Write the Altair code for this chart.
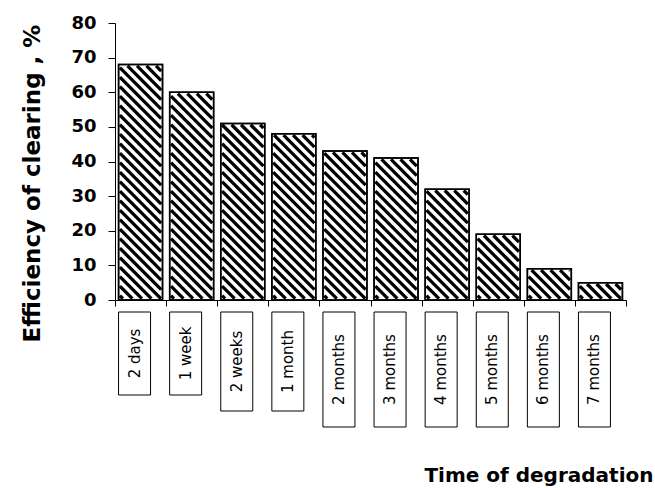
import altair as alt
import pandas as pd

# Degradation time and the clearing efficiency reached after it
categories = ["2 days", "1 week", "2 weeks", "1 month", "2 months",
              "3 months", "4 months", "5 months", "6 months", "7 months"]
efficiency = [68, 60, 51, 48, 43, 41, 32, 19, 9, 5]
y_ticks = [0, 10, 20, 30, 40, 50, 60, 70, 80]

# Plot area size (px) and layout constants
W, H = 511, 277
Y_MAX = 80
N = len(categories)
BAR_PAD = 0.07          # gap on each side of a bar, in category units
HATCH_GAP = 9.5         # horizontal distance between hatch stripes, px
HATCH_WIDTH = 3.3       # stripe thickness, px
INSET = 1.3             # keep stripe ends inside the bar outline, px
STEP = W / N            # px per category
KY = H / Y_MAX          # px per percent
BOX_TOP = H + 12        # label boxes hang just below the x axis, px
BOX_W = 32              # label box width, px
BOX_SHIFT = -6          # label boxes sit slightly left of the bar centres, px
FONT = "DejaVu Sans"

df = pd.DataFrame({"idx": list(range(N)), "label": categories, "value": efficiency})

x_scale = alt.Scale(domain=[0, N], nice=False, zero=False)
y_scale = alt.Scale(domain=[0, Y_MAX], nice=False, zero=True)

X_TITLE = "Time of degradation"
Y_TITLE = "Efficiency of clearing , %"

x_axis = alt.Axis(
    values=list(range(N + 1)), labels=False, grid=False,
    tickSize=6, tickColor="black", tickWidth=1,
    domainColor="black", domainWidth=1,
    title=X_TITLE, titleFont=FONT, titleFontSize=20, titleFontWeight="bold",
    titleColor="black", titleX=538, titleY=181, titleAlign="right",
    titleBaseline="alphabetic", titleAngle=0,
)
y_axis = alt.Axis(
    values=y_ticks, grid=False, format="d", labelOverlap=False,
    tickSize=7, tickColor="black", tickWidth=1,
    domainColor="black", domainWidth=1,
    labelFont=FONT, labelFontSize=18, labelFontWeight="bold", labelColor="black",
    labelPadding=12,
    title=Y_TITLE, titleFont=FONT, titleFontSize=23, titleFontWeight="bold",
    titleColor="black", titleX=-76, titleY=160, titleAngle=270,
    titleAlign="center", titleBaseline="alphabetic",
)

bar_base = alt.Chart(df).transform_calculate(
    x0=f"datum.idx + {BAR_PAD}"
).transform_calculate(
    x1=f"datum.idx + 1 - {BAR_PAD}"
).transform_calculate(
    zero="0"
)

bar_enc = dict(
    x=alt.X("x0:Q", scale=x_scale, axis=x_axis),
    x2="x1:Q",
    y=alt.Y("value:Q", scale=y_scale, axis=y_axis),
    y2="zero:Q",
)

# White bar bodies
bars = bar_base.mark_rect(fill="white", stroke="black", strokeWidth=1.5).encode(**bar_enc)

# Diagonal hatch stripes, clipped to each bar's rectangle
hatch = alt.Chart(df).transform_calculate(
    a=f"(datum.idx + {BAR_PAD}) * {STEP} + {INSET}"
).transform_calculate(
    b=f"(datum.idx + 1 - {BAR_PAD}) * {STEP} - {INSET}"
).transform_calculate(
    w0=f"{INSET}"
).transform_calculate(
    w1=f"datum.value * {KY} - {INSET}"
).transform_calculate(
    k=f"sequence(0, ceil((datum.b - datum.a + datum.w1 - datum.w0) / {HATCH_GAP}) + 1)"
).transform_flatten(["k"]).transform_calculate(
    c=f"datum.a + datum.w0 + datum.k * {HATCH_GAP} + 3"
).transform_calculate(
    u1="max(datum.a, datum.c - datum.w1)"
).transform_calculate(
    u2="min(datum.b, datum.c - datum.w0)"
).transform_filter(
    "datum.u2 - datum.u1 > 0.3"
).transform_calculate(
    hx1=f"datum.u1 / {STEP}"
).transform_calculate(
    hy1=f"(datum.c - datum.u1) / {KY}"
).transform_calculate(
    hx2=f"datum.u2 / {STEP}"
).transform_calculate(
    hy2=f"(datum.c - datum.u2) / {KY}"
).mark_rule(color="black", strokeWidth=HATCH_WIDTH, strokeCap="butt").encode(
    x=alt.X("hx1:Q", scale=x_scale, axis=x_axis),
    x2="hx2:Q",
    y=alt.Y("hy1:Q", scale=y_scale, axis=y_axis),
    y2="hy2:Q",
)

# Bar outlines drawn over the stripes
outlines = bar_base.mark_rect(filled=False, stroke="black", strokeWidth=1.5).encode(**bar_enc)

plot = alt.layer(bars, hatch, outlines)

# Boxed, rotated category labels under the axis
label_base = alt.Chart(df).transform_calculate(
    blen="16 * length(datum.label) - 13"
).transform_calculate(
    top=f"{BOX_TOP}"
).transform_calculate(
    bottom="datum.top + datum.blen"
).transform_calculate(
    mid="datum.top + datum.blen / 2"
).transform_calculate(
    bx1=f"datum.idx + 0.5 + ({BOX_SHIFT} - {BOX_W} / 2) / {STEP}"
).transform_calculate(
    bx2=f"datum.idx + 0.5 + ({BOX_SHIFT} + {BOX_W} / 2) / {STEP}"
).transform_calculate(
    xc="datum.idx + 0.5"
)

boxes = label_base.mark_rect(fill="white", stroke="black", strokeWidth=1).encode(
    x=alt.X("bx1:Q", scale=x_scale, axis=x_axis),
    x2="bx2:Q",
    y=alt.Y("top:Q", scale=None, axis=None),
    y2="bottom:Q",
)

texts = label_base.mark_text(
    angle=270, font=FONT, fontSize=15, color="black",
    align="center", baseline="middle", xOffset=BOX_SHIFT,
).encode(
    x=alt.X("xc:Q", scale=x_scale, axis=x_axis),
    y=alt.Y("mid:Q", scale=None, axis=None),
    text="label:N",
)

chart = alt.layer(plot, boxes, texts).resolve_scale(
    y="independent"
).properties(
    width=W,
    height=H,
    autosize=alt.AutoSizeParams(type="none"),
    padding={"left": 115, "top": 23, "right": 29, "bottom": 188},
    background="white",
).configure_view(stroke=None)

chart.save("out.html", embed_options={"renderer": "svg", "actions": False})
